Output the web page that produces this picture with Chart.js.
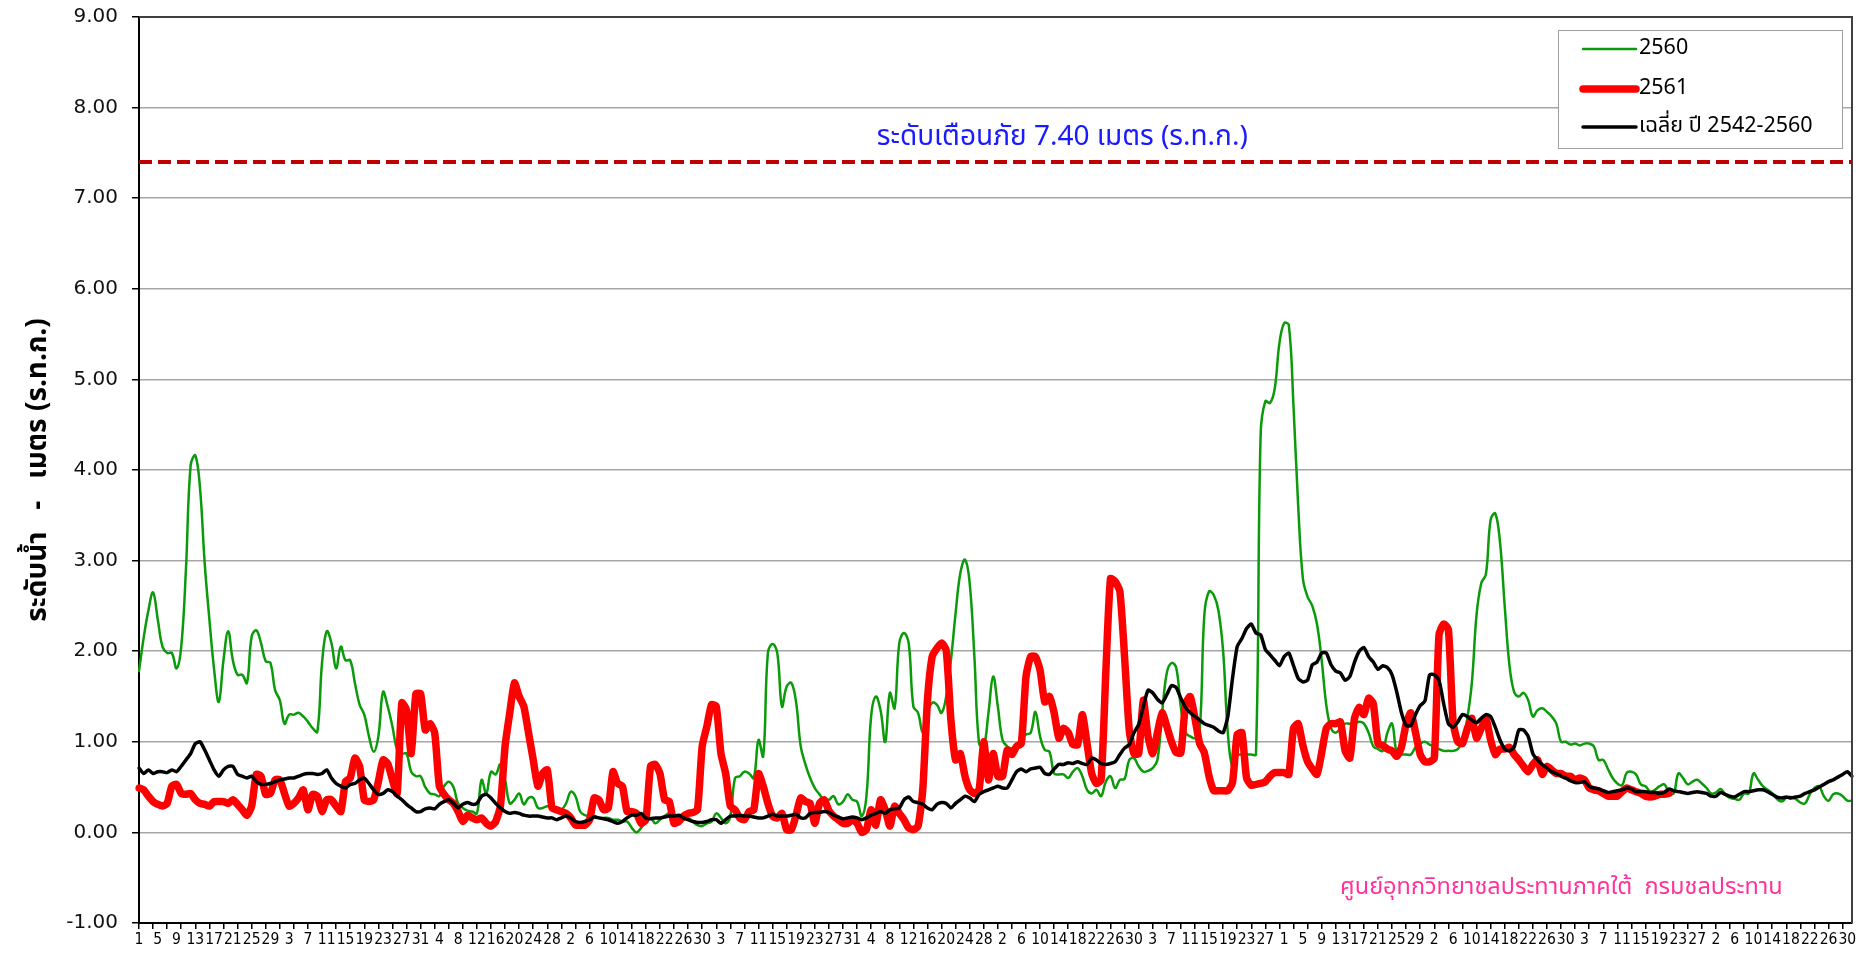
<!DOCTYPE html>
<html>
<head>
<meta charset="utf-8">
<script src="https://cdn.jsdelivr.net/npm/chart.js@4.4.1/dist/chart.umd.min.js"></script>
<style>
  html, body { margin: 0; padding: 0; background: #fff; }
</style>
</head>
<body>
<canvas id="chart" width="1867" height="953"></canvas>
<script>
// days in each month, April 2561 .. March 2562 (Feb with 29 days)
const MONTH_DAYS = [30, 31, 30, 31, 31, 30, 31, 30, 31, 31, 29, 31];

const DAY_LABELS = [];
MONTH_DAYS.forEach(n => { for (let d = 1; d <= n; d++) DAY_LABELS.push(String(d)); });

const WARNING_LEVEL = 7.40;

const Y_TICKS = [-1, 0, 1, 2, 3, 4, 5, 6, 7, 8, 9];

// ระดับน้ำ ปี 2560
const LEVEL_2560 = [
  1.78,2.15,2.45,2.65,2.35,2.05,1.98,1.98,1.81,2.05,
  2.9,4.05,4.16,3.8,2.97,2.35,1.8,1.44,1.9,2.22,
  1.9,1.74,1.74,1.65,2.16,2.23,2.09,1.89,1.87,1.57,
  1.46,1.2,1.3,1.3,1.32,1.28,1.22,1.15,1.11,1.87,
  2.22,2.09,1.81,2.05,1.9,1.9,1.65,1.41,1.3,1.06,
  0.89,1.06,1.55,1.39,1.17,0.91,0.87,0.87,0.67,0.62,
  0.62,0.5,0.43,0.42,0.4,0.51,0.56,0.5,0.32,0.27,
  0.24,0.23,0.21,0.58,0.43,0.67,0.64,0.75,0.58,0.32,
  0.36,0.43,0.31,0.38,0.38,0.27,0.27,0.29,0.27,0.25,
  0.25,0.32,0.45,0.4,0.23,0.19,0.18,0.18,0.16,0.16,
  0.16,0.14,0.14,0.12,0.12,0.05,0.0,0.05,0.12,0.16,
  0.1,0.14,0.18,0.21,0.18,0.16,0.14,0.16,0.12,0.08,
  0.07,0.1,0.12,0.21,0.16,0.1,0.18,0.6,0.62,0.67,
  0.65,0.6,1.02,0.84,1.98,2.08,1.98,1.39,1.61,1.65,
  1.44,0.95,0.75,0.6,0.49,0.42,0.36,0.36,0.4,0.31,
  0.34,0.42,0.36,0.34,0.18,0.4,1.28,1.5,1.35,1.0,
  1.54,1.37,2.09,2.2,2.09,1.39,1.32,1.1,1.32,1.43,
  1.41,1.32,1.5,1.9,2.42,2.86,3.01,2.75,1.94,0.98,
  0.95,1.32,1.72,1.39,1.02,0.95,0.93,0.98,1.02,1.08,
  1.1,1.33,1.06,0.91,0.89,0.65,0.64,0.64,0.6,0.67,
  0.71,0.62,0.47,0.43,0.47,0.4,0.56,0.62,0.49,0.58,
  0.59,0.8,0.82,0.73,0.67,0.68,0.71,0.8,1.32,1.76,
  1.87,1.82,1.38,1.1,1.06,1.04,1.12,2.4,2.66,2.62,
  2.45,2.0,1.1,0.72,0.85,0.86,0.86,0.86,0.86,4.4,
  4.76,4.74,4.9,5.4,5.62,5.6,4.7,3.6,2.8,2.6,
  2.5,2.3,1.9,1.4,1.15,1.1,1.15,1.2,1.2,1.2,
  1.22,1.2,1.1,0.95,0.92,0.9,1.1,1.2,0.88,0.86,
  0.86,0.86,0.94,0.98,1.0,0.97,0.95,0.92,0.9,0.9,
  0.9,0.92,1.0,1.25,1.65,2.4,2.75,2.85,3.45,3.52,
  3.2,2.5,1.85,1.55,1.5,1.54,1.46,1.28,1.35,1.37,
  1.33,1.28,1.2,1.0,1.0,0.97,0.98,0.96,0.98,0.98,
  0.95,0.8,0.8,0.7,0.6,0.54,0.52,0.66,0.67,0.64,
  0.53,0.51,0.45,0.47,0.51,0.53,0.45,0.43,0.65,0.6,
  0.53,0.56,0.58,0.54,0.49,0.43,0.44,0.48,0.42,0.38,
  0.37,0.36,0.43,0.43,0.65,0.58,0.51,0.47,0.43,0.37,
  0.34,0.38,0.39,0.37,0.33,0.32,0.42,0.49,0.51,0.4,
  0.35,0.42,0.43,0.4,0.35,0.35
];

// ระดับน้ำ ปี 2561 (ถึงวันล่าสุด)
const LEVEL_2561 = [
  0.49,0.47,0.4,0.34,0.31,0.29,0.32,0.51,0.53,0.43,
  0.42,0.43,0.36,0.32,0.31,0.29,0.34,0.34,0.34,0.32,
  0.36,0.31,0.25,0.19,0.29,0.64,0.62,0.42,0.43,0.58,
  0.58,0.43,0.29,0.32,0.38,0.47,0.25,0.42,0.4,0.23,
  0.36,0.36,0.29,0.23,0.56,0.6,0.82,0.73,0.36,0.34,
  0.36,0.56,0.8,0.76,0.58,0.43,1.43,1.35,0.87,1.53,
  1.53,1.13,1.2,1.1,0.51,0.42,0.36,0.32,0.23,0.12,
  0.19,0.16,0.14,0.16,0.1,0.07,0.12,0.29,0.95,1.32,
  1.65,1.5,1.39,1.1,0.8,0.51,0.65,0.69,0.27,0.25,
  0.23,0.21,0.16,0.08,0.08,0.08,0.14,0.38,0.36,0.25,
  0.27,0.67,0.54,0.51,0.23,0.23,0.21,0.1,0.14,0.73,
  0.75,0.65,0.36,0.34,0.1,0.12,0.18,0.21,0.22,0.25,
  0.95,1.17,1.41,1.39,0.87,0.65,0.29,0.25,0.16,0.14,
  0.23,0.25,0.65,0.51,0.32,0.18,0.16,0.21,0.03,0.03,
  0.19,0.38,0.34,0.32,0.1,0.32,0.36,0.24,0.18,0.14,
  0.1,0.1,0.14,0.1,0.0,0.03,0.25,0.08,0.36,0.25,
  0.07,0.29,0.21,0.14,0.05,0.03,0.07,0.47,1.46,1.94,
  2.03,2.09,2.01,1.24,0.8,0.87,0.62,0.47,0.43,0.47,
  1.0,0.58,0.87,0.62,0.62,0.91,0.86,0.95,0.98,1.72,
  1.94,1.94,1.79,1.44,1.5,1.32,1.04,1.15,1.1,0.97,
  0.97,1.3,0.98,0.65,0.54,0.58,1.76,2.8,2.77,2.66,
  1.94,1.13,0.87,0.87,1.46,1.06,0.87,1.1,1.32,1.17,
  1.0,0.88,0.88,1.42,1.5,1.26,0.98,0.88,0.62,0.46,
  0.46,0.46,0.46,0.55,1.08,1.1,0.6,0.52,0.53,0.54,
  0.56,0.62,0.66,0.66,0.66,0.64,1.15,1.2,0.96,0.78,
  0.7,0.64,0.88,1.15,1.2,1.2,1.22,0.9,0.82,1.26,
  1.38,1.3,1.48,1.42,0.98,0.96,0.92,0.9,0.84,0.94,
  1.2,1.32,1.1,0.86,0.78,0.78,0.82,2.18,2.3,2.24,
  1.22,1.0,0.98,1.14,1.26,1.04,1.15,1.26,1.02,0.86,
  0.92,0.92,0.94,0.86,0.8,0.73,0.67,0.75,0.8,0.64,
  0.73,0.69,0.65,0.65,0.62,0.62,0.58,0.6,0.58,0.49,
  0.47,0.46,0.43,0.4,0.4,0.4,0.45,0.49,0.47,0.45,
  0.43,0.4,0.39,0.4,0.42,0.42,0.43
];

// ค่าเฉลี่ย ปี 2542-2560
const LEVEL_AVG = [
  0.71,0.65,0.69,0.65,0.67,0.67,0.66,0.69,0.67,0.73,
  0.8,0.87,0.98,1.0,0.91,0.8,0.69,0.62,0.69,0.73,
  0.73,0.64,0.62,0.6,0.62,0.56,0.53,0.53,0.54,0.56,
  0.58,0.59,0.6,0.6,0.62,0.64,0.65,0.65,0.64,0.65,
  0.69,0.6,0.54,0.51,0.49,0.53,0.54,0.58,0.6,0.54,
  0.47,0.42,0.43,0.47,0.45,0.4,0.36,0.31,0.27,0.23,
  0.23,0.26,0.27,0.26,0.31,0.34,0.36,0.32,0.27,0.31,
  0.33,0.31,0.32,0.4,0.42,0.38,0.32,0.27,0.23,0.21,
  0.22,0.21,0.19,0.18,0.18,0.18,0.17,0.16,0.16,0.14,
  0.16,0.18,0.16,0.12,0.11,0.12,0.14,0.17,0.16,0.15,
  0.14,0.12,0.1,0.12,0.16,0.19,0.19,0.21,0.16,0.15,
  0.16,0.16,0.17,0.18,0.18,0.19,0.16,0.14,0.12,0.11,
  0.11,0.12,0.14,0.14,0.1,0.14,0.18,0.18,0.19,0.18,
  0.18,0.17,0.16,0.16,0.18,0.2,0.18,0.18,0.18,0.19,
  0.2,0.16,0.16,0.21,0.22,0.22,0.23,0.22,0.19,0.17,
  0.15,0.16,0.17,0.16,0.14,0.16,0.19,0.21,0.23,0.21,
  0.25,0.26,0.27,0.36,0.39,0.34,0.33,0.31,0.27,0.25,
  0.31,0.33,0.32,0.27,0.32,0.36,0.4,0.38,0.34,0.42,
  0.45,0.47,0.49,0.51,0.49,0.49,0.58,0.67,0.7,0.67,
  0.7,0.71,0.72,0.65,0.64,0.7,0.75,0.75,0.77,0.76,
  0.78,0.76,0.75,0.82,0.8,0.76,0.75,0.76,0.78,0.86,
  0.93,0.97,1.1,1.19,1.39,1.57,1.54,1.47,1.43,1.52,
  1.62,1.6,1.48,1.38,1.32,1.28,1.24,1.2,1.18,1.16,
  1.12,1.1,1.28,1.7,2.05,2.14,2.25,2.3,2.2,2.18,
  2.02,1.96,1.9,1.84,1.94,1.98,1.84,1.7,1.66,1.68,
  1.85,1.88,1.98,1.98,1.85,1.78,1.76,1.68,1.72,1.88,
  2.0,2.04,1.94,1.88,1.8,1.84,1.82,1.74,1.55,1.32,
  1.18,1.18,1.3,1.4,1.45,1.74,1.74,1.68,1.42,1.2,
  1.16,1.22,1.3,1.28,1.24,1.21,1.26,1.3,1.28,1.16,
  1.02,0.92,0.9,0.94,1.13,1.13,1.06,0.87,0.8,0.75,
  0.71,0.67,0.65,0.62,0.6,0.57,0.55,0.55,0.56,0.51,
  0.49,0.48,0.46,0.44,0.45,0.46,0.47,0.49,0.48,0.45,
  0.45,0.45,0.44,0.44,0.43,0.44,0.48,0.46,0.45,0.44,
  0.43,0.44,0.45,0.44,0.43,0.4,0.4,0.44,0.42,0.4,
  0.39,0.42,0.45,0.45,0.46,0.47,0.47,0.45,0.42,0.39,
  0.38,0.39,0.38,0.39,0.4,0.43,0.45,0.47,0.5,0.53,
  0.56,0.58,0.61,0.64,0.67,0.62
];

const SERIES_NAMES = ["2560", "2561", "เฉลี่ย ปี 2542-2560"];
const SERIES_COLORS = ["#0a9a0a", "#ff0000", "#000000"];
const SERIES_WIDTHS = [2.5, 7.5, 3.5];

const THAI = '"Tahoma", "Noto Sans Thai", "Loma", "Garuda", "Noto Sans", "DejaVu Sans", sans-serif';

// กรอบ, เส้นเตือนภัย, คำอธิบาย และข้อความต่างๆ
const decor = {
  id: "decor",
  afterDraw(chart) {
    const { ctx, chartArea: a, scales: { y } } = chart;
    ctx.save();

    // top/right frame
    ctx.strokeStyle = "#404040";
    ctx.lineWidth = 2;
    ctx.beginPath();
    ctx.moveTo(a.left, a.top);
    ctx.lineTo(a.right, a.top);
    ctx.lineTo(a.right, a.bottom);
    ctx.stroke();

    // warning level
    const wy = y.getPixelForValue(WARNING_LEVEL);
    ctx.strokeStyle = "#c00000";
    ctx.lineWidth = 4;
    ctx.setLineDash([13, 6]);
    ctx.beginPath();
    ctx.moveTo(a.left, wy);
    ctx.lineTo(a.right, wy);
    ctx.stroke();
    ctx.setLineDash([]);

    ctx.fillStyle = "#1a1aff";
    ctx.font = "28px " + THAI;
    ctx.textAlign = "center";
    ctx.textBaseline = "middle";
    ctx.fillText("ระดับเตือนภัย " + WARNING_LEVEL.toFixed(2) + " เมตร (ร.ท.ก.)", a.left + (a.right - a.left) * 0.539, wy - 23);

    // y title
    ctx.save();
    ctx.translate(40, (a.top + a.bottom) / 2);
    ctx.rotate(-Math.PI / 2);
    ctx.fillStyle = "#000";
    ctx.font = "bold 28px " + THAI;
    ctx.fillText("ระดับน้ำ   -   เมตร (ร.ท.ก.)", 0, 0);
    ctx.restore();

    // footer
    ctx.fillStyle = "#ff3399";
    ctx.font = "23.5px " + THAI;
    ctx.textAlign = "left";
    ctx.fillText("ศูนย์อุทกวิทยาชลประทานภาคใต้  กรมชลประทาน", 1340, 889);

    // legend box
    const lx = 1558, ly = 30, lw = 284, lh = 118;
    ctx.fillStyle = "#fff";
    ctx.fillRect(lx, ly, lw, lh);
    ctx.strokeStyle = "#a0a0a0";
    ctx.lineWidth = 1;
    ctx.strokeRect(lx + 0.5, ly + 0.5, lw, lh);
    const rows = [49, 89, 127];
    ctx.font = "21.5px " + THAI;
    ctx.textBaseline = "middle";
    SERIES_NAMES.forEach((name, i) => {
      ctx.strokeStyle = SERIES_COLORS[i];
      ctx.lineWidth = SERIES_WIDTHS[i];
      ctx.lineCap = "round";
      ctx.beginPath();
      ctx.moveTo(1583, rows[i]);
      ctx.lineTo(1636, rows[i]);
      ctx.stroke();
      ctx.fillStyle = "#000";
      ctx.fillText(name, 1639, rows[i] + 1);
    });

    ctx.restore();
  }
};

new Chart(document.getElementById("chart"), {
  type: "line",
  data: {
    labels: DAY_LABELS,
    datasets: [
      { label: SERIES_NAMES[0], data: LEVEL_2560, borderColor: SERIES_COLORS[0], borderWidth: SERIES_WIDTHS[0], tension: 0.4, order: 2 },
      { label: SERIES_NAMES[1], data: LEVEL_2561, borderColor: SERIES_COLORS[1], borderWidth: SERIES_WIDTHS[1], tension: 0.2, order: 1 },
      { label: SERIES_NAMES[2], data: LEVEL_AVG, borderColor: SERIES_COLORS[2], borderWidth: SERIES_WIDTHS[2], tension: 0.2, order: 0 }
    ]
  },
  options: {
    responsive: false,
    animation: false,
    elements: {
      point: { radius: 0 },
      line: { borderJoinStyle: "round", borderCapStyle: "round", fill: false }
    },
    layout: { padding: { top: 17, right: 15, left: 0, bottom: 0 } },
    plugins: { legend: { display: false }, tooltip: { enabled: false } },
    scales: {
      x: {
        type: "category",
        afterFit: s => { s.height = 30; },
        border: { color: "#000", width: 2 },
        grid: {
          drawOnChartArea: false,
          drawTicks: true,
          tickLength: 6,
          lineWidth: 1.5,
          tickColor: c => (c.index % 3 === 0 ? "#000" : "rgba(0,0,0,0)")
        },
        ticks: {
          autoSkip: false,
          maxRotation: 0,
          minRotation: 0,
          padding: 2,
          color: "#000",
          font: { family: '"DejaVu Sans Condensed", "DejaVu Sans", sans-serif', size: 15.5 },
          callback: (v, i) => (i % 4 === 0 ? DAY_LABELS[i] : "")
        }
      },
      y: {
        min: Y_TICKS[0],
        max: Y_TICKS[Y_TICKS.length - 1],
        afterFit: s => { s.width = 139; s.paddingTop = 0; s.paddingBottom = 0; },
        afterBuildTicks: s => { s.ticks = Y_TICKS.map(v => ({ value: v })); },
        border: { color: "#000", width: 2 },
        grid: { color: "#a6a6a6", lineWidth: 1.5, tickColor: "#000", tickLength: 7 },
        ticks: {
          padding: 14,
          color: "#111",
          font: { family: '"DejaVu Sans", sans-serif', size: 20 },
          callback: v => Number(v).toFixed(2)
        }
      }
    }
  },
  plugins: [decor]
});
</script>
</body>
</html>
